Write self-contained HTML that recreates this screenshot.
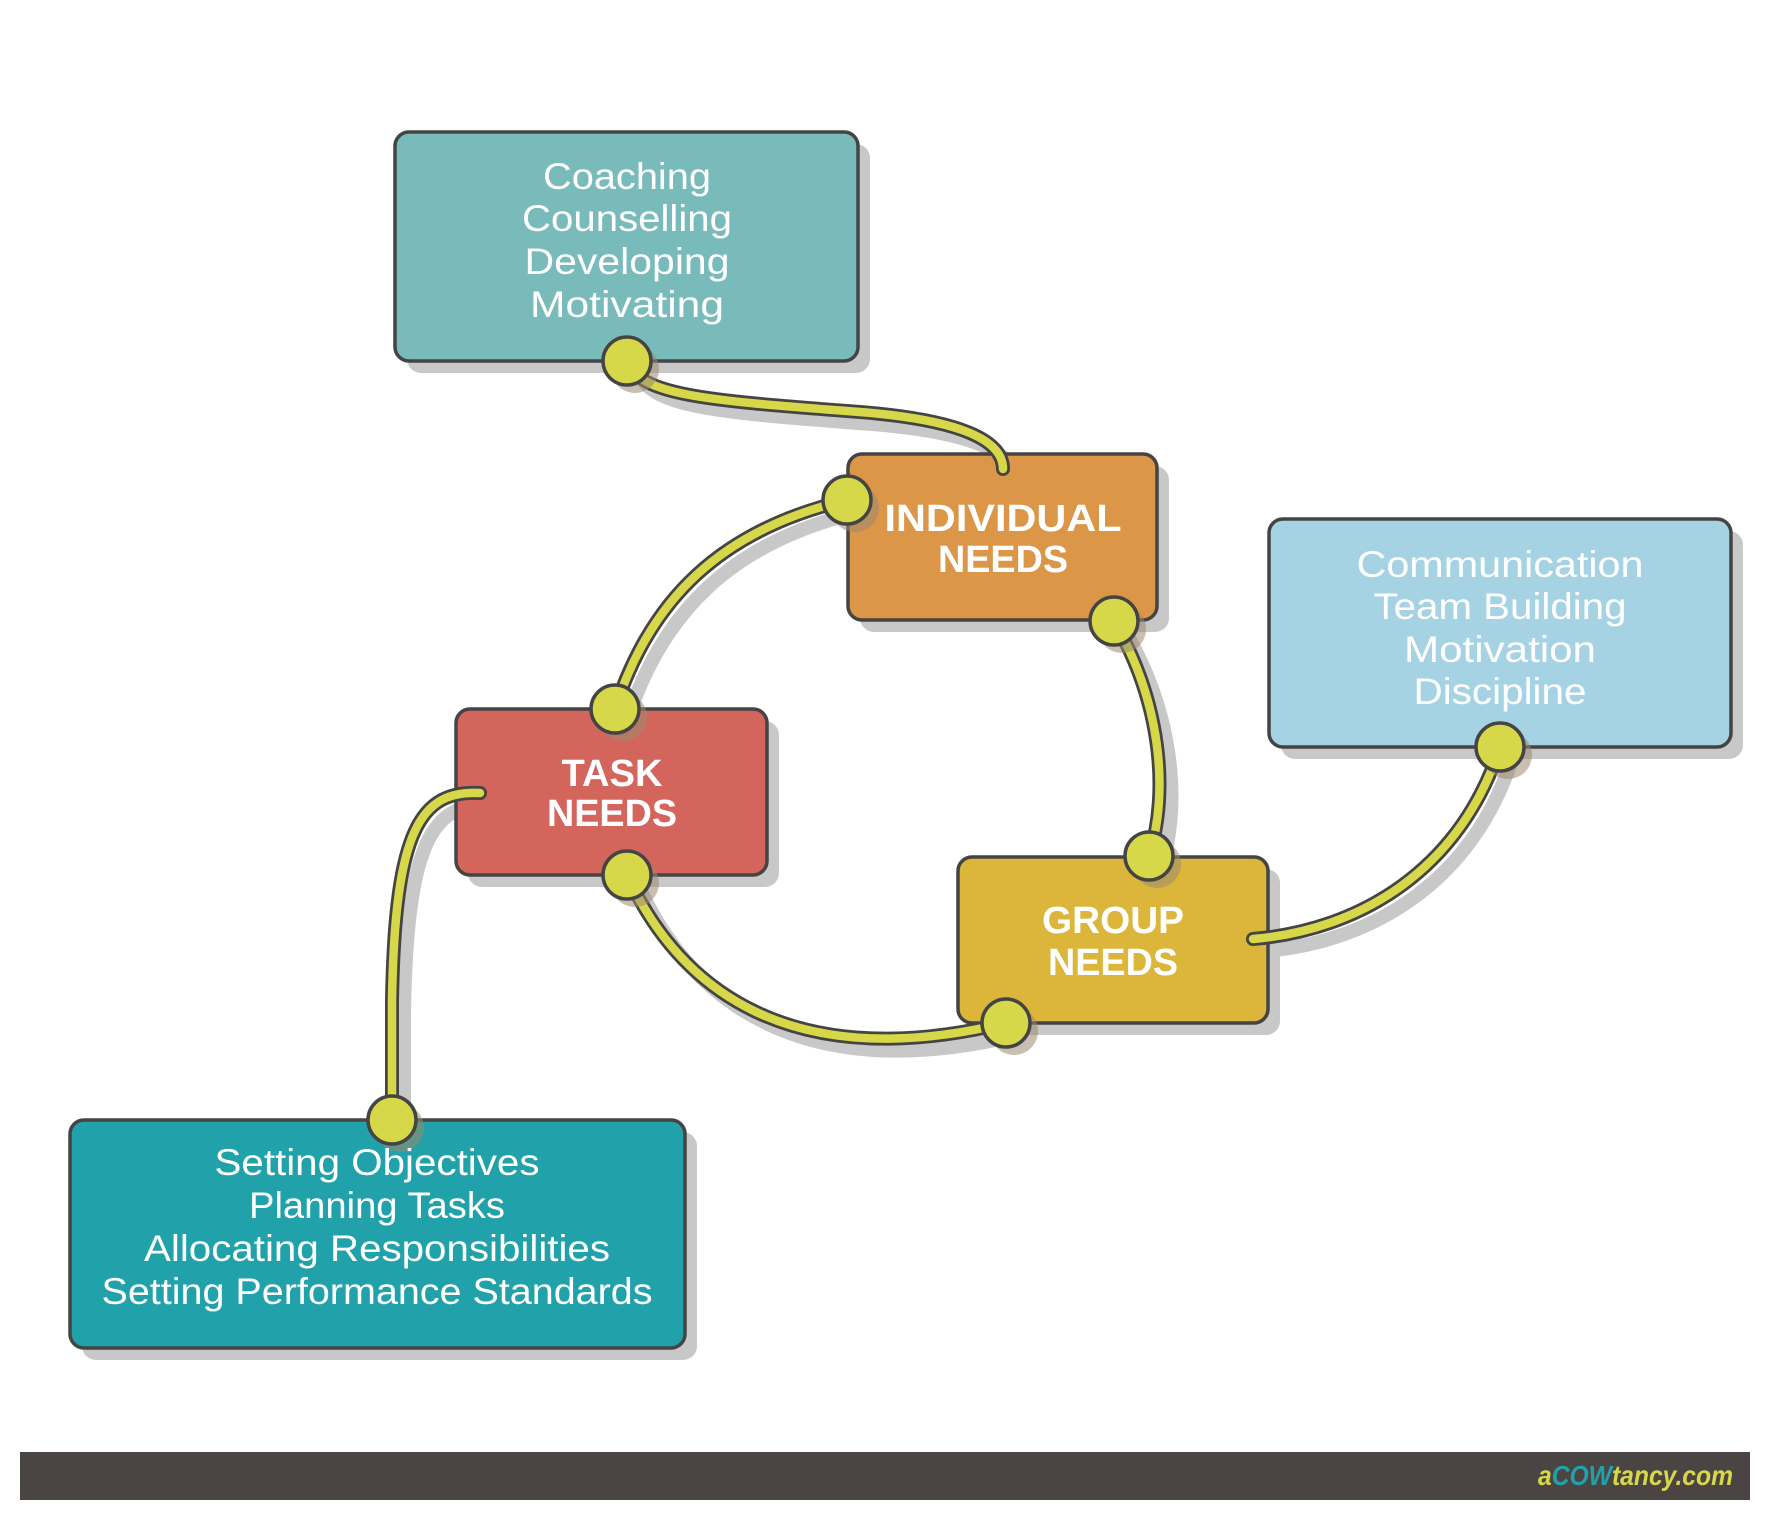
<!DOCTYPE html>
<html><head><meta charset="utf-8"><style>
html,body{margin:0;padding:0;background:#fff;}
svg{display:block;}
.l{font-family:"Liberation Sans",sans-serif;font-size:37px;fill:#fff;text-anchor:middle;}
.b{font-family:"Liberation Sans",sans-serif;font-size:38px;font-weight:bold;fill:#fff;text-anchor:middle;}
</style></head><body>
<svg width="1771" height="1521" viewBox="0 0 1771 1521" xmlns="http://www.w3.org/2000/svg">
<defs>
<g id="paths">
<path d="M627,361 C640,395 700,400 860,412 C960,420 1003,440 1003,469"/>
<path d="M847,500 C720,530 650,600 615,709"/>
<path d="M1114,621 C1160,700 1170,790 1149,856"/>
<path d="M627,875 C680,990 790,1075 1006,1023"/>
<path d="M1500,747 C1460,870 1360,930 1253,939"/>
<path d="M480,793 C420,790 395,830 392,1000 L392,1120"/>
</g>
</defs>
<g fill="#c9c8c8">
<rect x="407" y="144" width="463" height="229" rx="14"/>
<rect x="860" y="466" width="309" height="166" rx="14"/>
<rect x="1281" y="531" width="462" height="228" rx="14"/>
<rect x="468" y="721" width="311" height="166" rx="14"/>
<rect x="970" y="869" width="310" height="166" rx="14"/>
<rect x="82" y="1132" width="615" height="228" rx="14"/>
</g>
<g transform="translate(12,12)" fill="none" stroke="#c9c8c8" stroke-width="14" stroke-linecap="round"><use href="#paths"/></g>
<g stroke="#444" stroke-width="3.5">
<rect x="395" y="132" width="463" height="229" rx="14" fill="#79bbbb"/>
<rect x="848" y="454" width="309" height="166" rx="14" fill="#db9648"/>
<rect x="1269" y="519" width="462" height="228" rx="14" fill="#a6d3e4"/>
<rect x="456" y="709" width="311" height="166" rx="14" fill="#d4655c"/>
<rect x="958" y="857" width="310" height="166" rx="14" fill="#dcb63a"/>
<rect x="70" y="1120" width="615" height="228" rx="14" fill="#21a1aa"/>
</g>
<g fill="none" stroke="#444" stroke-width="14" stroke-linecap="round"><use href="#paths"/></g>
<g fill="none" stroke="#d6d84a" stroke-width="8.5" stroke-linecap="round"><use href="#paths"/></g>
<g fill="#9a8a70" opacity="0.55">
<circle cx="635" cy="369" r="24"/><circle cx="855" cy="508" r="24"/><circle cx="623" cy="717" r="24"/>
<circle cx="1122" cy="629" r="24"/><circle cx="1157" cy="864" r="24"/><circle cx="635" cy="883" r="24"/>
<circle cx="1014" cy="1031" r="24"/><circle cx="1508" cy="755" r="24"/><circle cx="400" cy="1128" r="24"/>
</g>
<g fill="#d6d84a" stroke="#444" stroke-width="3.5">
<circle cx="627" cy="361" r="24"/><circle cx="847" cy="500" r="24"/><circle cx="615" cy="709" r="24"/>
<circle cx="1114" cy="621" r="24"/><circle cx="1149" cy="856" r="24"/><circle cx="627" cy="875" r="24"/>
<circle cx="1006" cy="1023" r="24"/><circle cx="1500" cy="747" r="24"/><circle cx="392" cy="1120" r="24"/>
</g>
<text class="l" x="627" y="189" textLength="168" lengthAdjust="spacingAndGlyphs">Coaching</text>
<text class="l" x="627" y="231" textLength="210" lengthAdjust="spacingAndGlyphs">Counselling</text>
<text class="l" x="627" y="274" textLength="205" lengthAdjust="spacingAndGlyphs">Developing</text>
<text class="l" x="627" y="317" textLength="194" lengthAdjust="spacingAndGlyphs">Motivating</text>
<text class="l" x="1500" y="577" textLength="287" lengthAdjust="spacingAndGlyphs">Communication</text>
<text class="l" x="1500" y="619" textLength="253" lengthAdjust="spacingAndGlyphs">Team Building</text>
<text class="l" x="1500" y="662" textLength="192" lengthAdjust="spacingAndGlyphs">Motivation</text>
<text class="l" x="1500" y="704" textLength="173" lengthAdjust="spacingAndGlyphs">Discipline</text>
<text class="l" x="377" y="1175" textLength="325" lengthAdjust="spacingAndGlyphs">Setting Objectives</text>
<text class="l" x="377" y="1218" textLength="256" lengthAdjust="spacingAndGlyphs">Planning Tasks</text>
<text class="l" x="377" y="1261" textLength="466" lengthAdjust="spacingAndGlyphs">Allocating Responsibilities</text>
<text class="l" x="377" y="1304" textLength="551" lengthAdjust="spacingAndGlyphs">Setting Performance Standards</text>
<text class="b" x="1003" y="531" textLength="237" lengthAdjust="spacingAndGlyphs">INDIVIDUAL</text>
<text class="b" x="1003" y="572" textLength="130" lengthAdjust="spacingAndGlyphs">NEEDS</text>
<text class="b" x="612" y="786" textLength="101" lengthAdjust="spacingAndGlyphs">TASK</text>
<text class="b" x="612" y="826" textLength="130" lengthAdjust="spacingAndGlyphs">NEEDS</text>
<text class="b" x="1113" y="933" textLength="142" lengthAdjust="spacingAndGlyphs">GROUP</text>
<text class="b" x="1113" y="975" textLength="130" lengthAdjust="spacingAndGlyphs">NEEDS</text>
<rect x="20" y="1452" width="1730" height="48" fill="#4a4543"/>
<text x="1733" y="1485" text-anchor="end" font-family="Liberation Sans,sans-serif" font-size="28" font-weight="bold" font-style="italic" fill="#d6d84a" textLength="195" lengthAdjust="spacingAndGlyphs">a<tspan fill="#21a1aa">COW</tspan>tancy.com</text>
</svg>
</body></html>
